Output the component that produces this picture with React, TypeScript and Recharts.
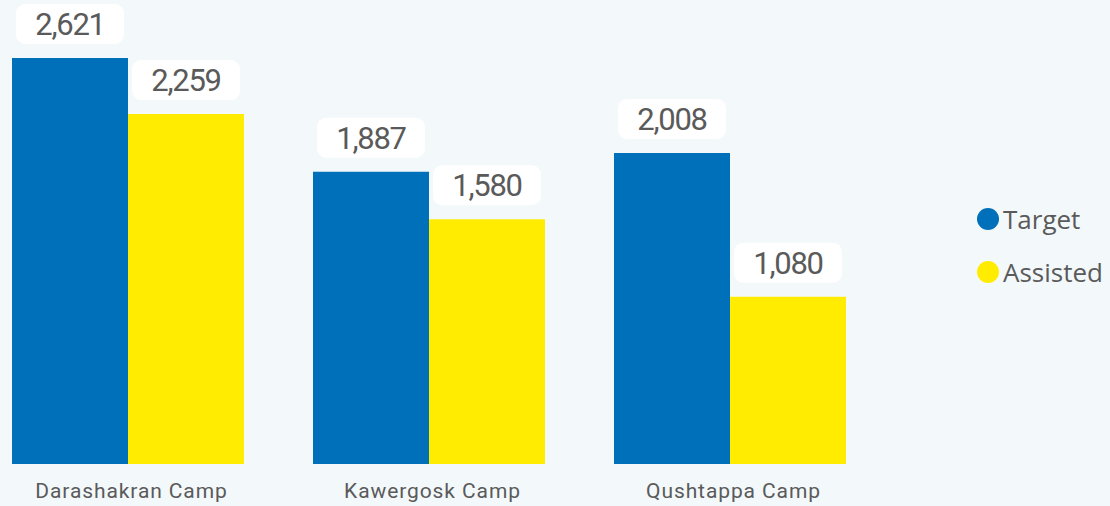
import React from 'react';
import { BarChart, Bar, XAxis, YAxis, LabelList } from 'recharts';

const camps = ['Darashakran Camp', 'Kawergosk Camp', 'Qushtappa Camp'];
const target = [2621, 1887, 2008];
const assisted = [2259, 1580, 1080];

const data = camps.map((name, i) => ({ name, Target: target[i], Assisted: assisted[i] }));

const BLUE = '#0070BA';
const YELLOW = '#FFEC00';
const TEXT = '#5a5a5a';

const ValueBox = (props: any) => {
  const { x, y, width, value } = props;
  const cx = x + width / 2;
  const boxW = 108;
  const boxH = 40;
  const top = y - 14 - boxH;
  return (
    <g>
      <rect x={cx - boxW / 2} y={top} width={boxW} height={boxH} rx={9} ry={9} fill="#ffffff" />
      <text
        x={cx}
        y={top + boxH / 2 + 11}
        textAnchor="middle"
        fill={TEXT}
        style={{ fontFamily: 'Roboto, sans-serif', fontSize: 31, letterSpacing: -1.3 }}
      >
        {Number(value).toLocaleString('en-US')}
      </text>
    </g>
  );
};

const CampTick = (props: any) => {
  const { x, payload } = props;
  return (
    <text
      x={x + 4}
      y={498}
      textAnchor="middle"
      fill={TEXT}
      style={{ fontFamily: 'Roboto, sans-serif', fontSize: 21, letterSpacing: 0.9 }}
    >
      {payload.value}
    </text>
  );
};

const legendItems = [
  { label: 'Target', color: BLUE },
  { label: 'Assisted', color: YELLOW },
];

export default function App() {
  return (
    <div
      style={{
        position: 'absolute',
        top: 0,
        left: 0,
        width: 1110,
        height: 506,
        background: '#F3F8FB',
        overflow: 'hidden',
      }}
    >
      <div style={{ position: 'absolute', top: 0, left: -23 }}>
        <BarChart
          width={903}
          height={506}
          data={data}
          margin={{ top: 58, right: 0, bottom: 0, left: 0 }}
          barCategoryGap={35}
          barGap={0}
        >
          <XAxis dataKey="name" axisLine={false} tickLine={false} height={42} tick={<CampTick />} interval={0} />
          <YAxis hide domain={[0, 2621]} />
          <Bar dataKey="Target" fill={BLUE} isAnimationActive={false}>
            <LabelList dataKey="Target" content={<ValueBox />} />
          </Bar>
          <Bar dataKey="Assisted" fill={YELLOW} isAnimationActive={false}>
            <LabelList dataKey="Assisted" content={<ValueBox />} />
          </Bar>
        </BarChart>
      </div>
      <div
        style={{
          position: 'absolute',
          left: 977,
          top: 192,
          fontFamily: '"Open Sans", sans-serif',
          fontSize: 26,
          color: TEXT,
        }}
      >
        {legendItems.map((item) => (
          <div key={item.label} style={{ display: 'flex', alignItems: 'center', height: 53 }}>
            <span
              style={{
                display: 'inline-block',
                width: 22,
                height: 22,
                borderRadius: '50%',
                background: item.color,
                marginRight: 4,
              }}
            />
            <span>{item.label}</span>
          </div>
        ))}
      </div>
    </div>
  );
}
